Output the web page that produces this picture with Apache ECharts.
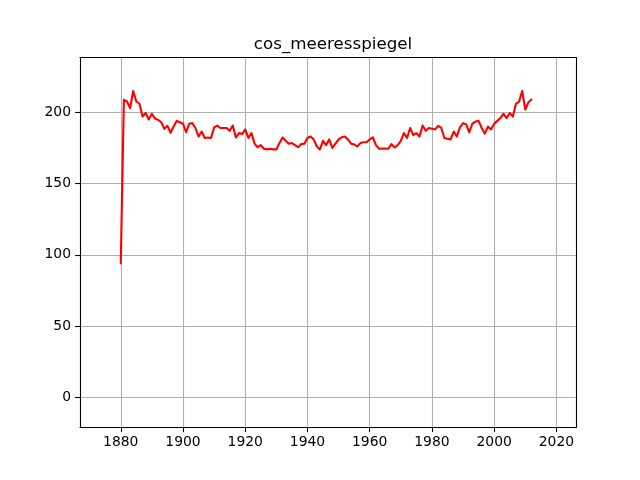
<!DOCTYPE html>
<html>
<head>
<meta charset="utf-8">
<script src="https://cdn.jsdelivr.net/npm/echarts@6/dist/echarts.min.js"></script>
<style>
html,body{margin:0;padding:0;background:#fff;}
#chart{width:640px;height:480px;}
</style>
</head>
<body>
<div id="chart"></div>
<script>
var titleText = 'cos_meeresspiegel';
var startYear = 1880;
var values = [
  94, 208.7, 207.6, 203, 215, 207.6, 206, 197, 199.6, 195,
  199, 195.6, 194.7, 193, 188.4, 190.5, 185.6, 190, 194, 193,
  192, 186, 192, 192.4, 189, 183, 186.5, 182, 182.3, 182,
  189.4, 190.7, 189, 189, 189, 187, 190.7, 182.3, 185.4, 184.7,
  188, 182, 185.4, 178, 175.5, 177, 174.4, 174, 174.4, 174,
  174, 178.4, 182.3, 180, 178, 178.4, 177, 175.5, 177.7, 178,
  182, 183, 181, 176, 174, 180, 177, 181, 175, 178,
  181, 182.5, 183, 181, 178, 177.5, 176, 178.4, 179, 179,
  181, 182.5, 177, 174.4, 174.5, 174.5, 174.4, 177.7, 175.3, 177,
  180, 185.4, 182, 189, 184, 185.4, 183, 190.7, 187, 189,
  188.4, 188, 190.5, 189, 182, 181.4, 181, 186.5, 183, 189.4,
  192.4, 191.7, 186, 192, 193.5, 194, 189, 185, 190, 188,
  192, 194, 196, 199, 196, 199.5, 197, 206, 207.5, 215,
  202, 207, 209
];
var xTicks = [1880, 1900, 1920, 1940, 1960, 1980, 2000, 2020];
var yTicks = [0, 50, 100, 150, 200];

var seriesData = values.map(function (v, i) { return [startYear + i, v]; });

var chart = echarts.init(document.getElementById('chart'), null, {renderer: 'canvas'});
var font = 'DejaVu Sans';
chart.setOption({
  animation: false,
  backgroundColor: '#ffffff',
  title: {
    text: titleText,
    left: 328,
    top: 31,
    textAlign: 'center',
    textStyle: {fontFamily: font, fontSize: 16.7, fontWeight: 'normal', color: '#000'}
  },
  grid: {left: 80, right: 64, top: 57.6, bottom: 52.8, containLabel: false},
  xAxis: [{
    type: 'value',
    min: 1866.9,
    max: 2026.3,
    splitNumber: 8,
    axisLine: {show: true, onZero: false, lineStyle: {color: '#000', width: 1.1}},
    axisTick: {show: true, length: 4.9, lineStyle: {color: '#000', width: 1.1}, customValues: xTicks},
    axisLabel: {show: true, margin: 8, color: '#000', fontFamily: font, fontSize: 13.9, customValues: xTicks, formatter: function (v) { return String(v); }},
    splitLine: {show: true, lineStyle: {color: '#b0b0b0', width: 1.1}}
  }, {
    type: 'value', position: 'top', min: 1866.9, max: 2026.3,
    axisLine: {show: true, onZero: false, lineStyle: {color: '#000', width: 1.1}},
    axisTick: {show: false}, axisLabel: {show: false}, splitLine: {show: false}
  }],
  yAxis: [{
    type: 'value',
    min: -21,
    max: 238.4,
    splitNumber: 5,
    axisLine: {show: true, onZero: false, lineStyle: {color: '#000', width: 1.1}},
    axisTick: {show: true, length: 4.9, lineStyle: {color: '#000', width: 1.1}, customValues: yTicks},
    axisLabel: {show: true, margin: 9, color: '#000', fontFamily: font, fontSize: 13.9, customValues: yTicks},
    splitLine: {show: true, lineStyle: {color: '#b0b0b0', width: 1.1}}
  }, {
    type: 'value', position: 'right', min: -21, max: 238.4,
    axisLine: {show: true, onZero: false, lineStyle: {color: '#000', width: 1.1}},
    axisTick: {show: false}, axisLabel: {show: false}, splitLine: {show: false}
  }],
  series: [{
    type: 'line',
    xAxisIndex: 0,
    yAxisIndex: 0,
    data: seriesData,
    showSymbol: false,
    symbol: 'none',
    lineStyle: {color: '#ff0000', width: 2.1, join: 'round', cap: 'round'},
    itemStyle: {color: '#ff0000'},
    z: 5
  }]
});
</script>
</body>
</html>
